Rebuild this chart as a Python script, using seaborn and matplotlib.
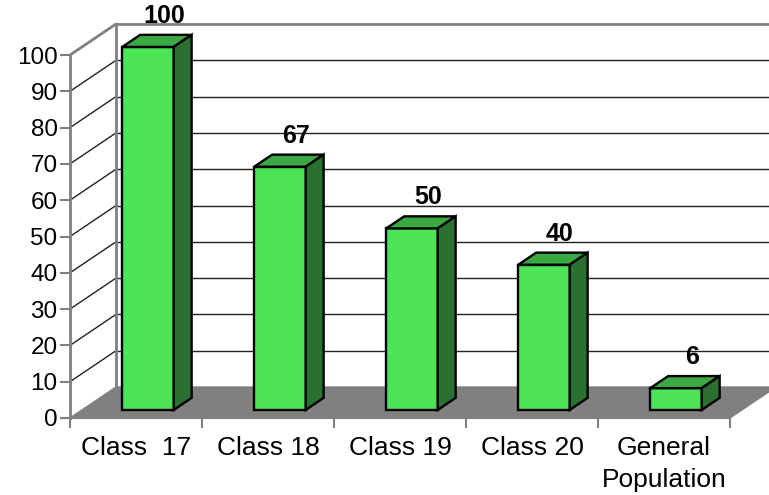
import seaborn as sns
import matplotlib.pyplot as plt
from matplotlib.patches import Polygon

categories = ["Class  17", "Class 18", "Class 19", "Class 20", "General\nPopulation"]
values = [100, 67, 50, 40, 6]
yticks = [0, 10, 20, 30, 40, 50, 60, 70, 80, 90, 100]

sns.set_style("white")
plt.rcParams['font.family'] = ['Liberation Sans', 'DejaVu Sans']

front = "#4de357"
top = "#3aa843"
side = "#2a7030"
wall = "#808080"

fig = plt.figure(figsize=(7.69, 4.95), dpi=100)
ax = fig.add_axes([70 / 769, 77 / 495, 660 / 769, 363 / 495])

# depth of the box (46 px right, 31 px up) in data units
dx = 46 / 132
dy = 31 / 3.63
# bars sit between these depth fractions
f1, f2 = 0.26, 0.65

# floor
ax.add_patch(Polygon([(-0.5, 0), (4.5, 0), (4.5 + dx, dy), (-0.5 + dx, dy)],
                     closed=True, facecolor=wall, edgecolor=wall, lw=1, clip_on=False, zorder=1))

# gridlines on back wall + side wall
for v in yticks[1:]:
    ax.plot([-0.5 + dx, 4.5 + dx], [v + dy, v + dy], color="#222222" if v < 100 else wall,
            lw=1 if v < 100 else 2, clip_on=False, zorder=1)
    ax.plot([-0.5, -0.5 + dx], [v, v + dy], color="#222222" if v < 100 else wall,
            lw=1 if v < 100 else 2, clip_on=False, zorder=1)
ax.plot([-0.5 + dx, -0.5 + dx], [dy, 100 + dy], color=wall, lw=2, clip_on=False, zorder=1)

sns.barplot(x=categories, y=values, width=0.39, color=front, saturation=1,
            edgecolor="black", linewidth=1.7, ax=ax, zorder=3)

sx = (f2 - f1) * dx
sy = (f2 - f1) * dy
for p, v in zip(ax.containers[0], values):
    p.set_x(p.get_x() + f1 * dx)
    p.set_y(f1 * dy)
    p.set_zorder(3)
    p.set_clip_on(False)
    x0 = p.get_x()
    x1 = x0 + p.get_width()
    y0 = p.get_y()
    h = p.get_height()
    ax.add_patch(Polygon([(x0, y0 + h), (x1, y0 + h), (x1 + sx, y0 + h + sy), (x0 + sx, y0 + h + sy)],
                         closed=True, facecolor=top, edgecolor="black", lw=1.7, clip_on=False, zorder=3))
    ax.add_patch(Polygon([(x1, y0), (x1 + sx, y0 + sy), (x1 + sx, y0 + h + sy), (x1, y0 + h)],
                         closed=True, facecolor=side, edgecolor="black", lw=1.7, clip_on=False, zorder=3))
    ax.annotate(str(v), (x0 + p.get_width() / 2 + sx / 2, y0 + h + sy), xytext=(5, 5),
                textcoords="offset points", ha="center", va="bottom", color="black",
                fontsize=18, fontweight="bold", annotation_clip=False)

ax.set_xlim(-0.5, 4.5)
ax.set_ylim(0, 100)
ax.set_yticks(yticks)
ax.set_xticks(range(len(categories)))
ax.set_xticklabels(categories, linespacing=1.4)
ax.set_xticks([i - 0.5 for i in range(len(categories) + 1)], minor=True)
ax.set_xlabel("")
ax.set_ylabel("")

ax.tick_params(axis="y", labelsize=17.5, length=7, width=1.5, color=wall, labelcolor="black",
               pad=2, left=True)
ax.tick_params(axis="x", which="major", labelsize=19, length=0, pad=13, labelcolor="black")
ax.tick_params(axis="x", which="minor", length=7, width=1.5, color=wall, bottom=True)

for s in ["top", "right"]:
    ax.spines[s].set_visible(False)
ax.spines["left"].set_color(wall)
ax.spines["left"].set_linewidth(2)
ax.spines["bottom"].set_color(wall)
ax.spines["bottom"].set_linewidth(1.5)
ax.patch.set_alpha(0)

fig.savefig("out.png", dpi=100)
